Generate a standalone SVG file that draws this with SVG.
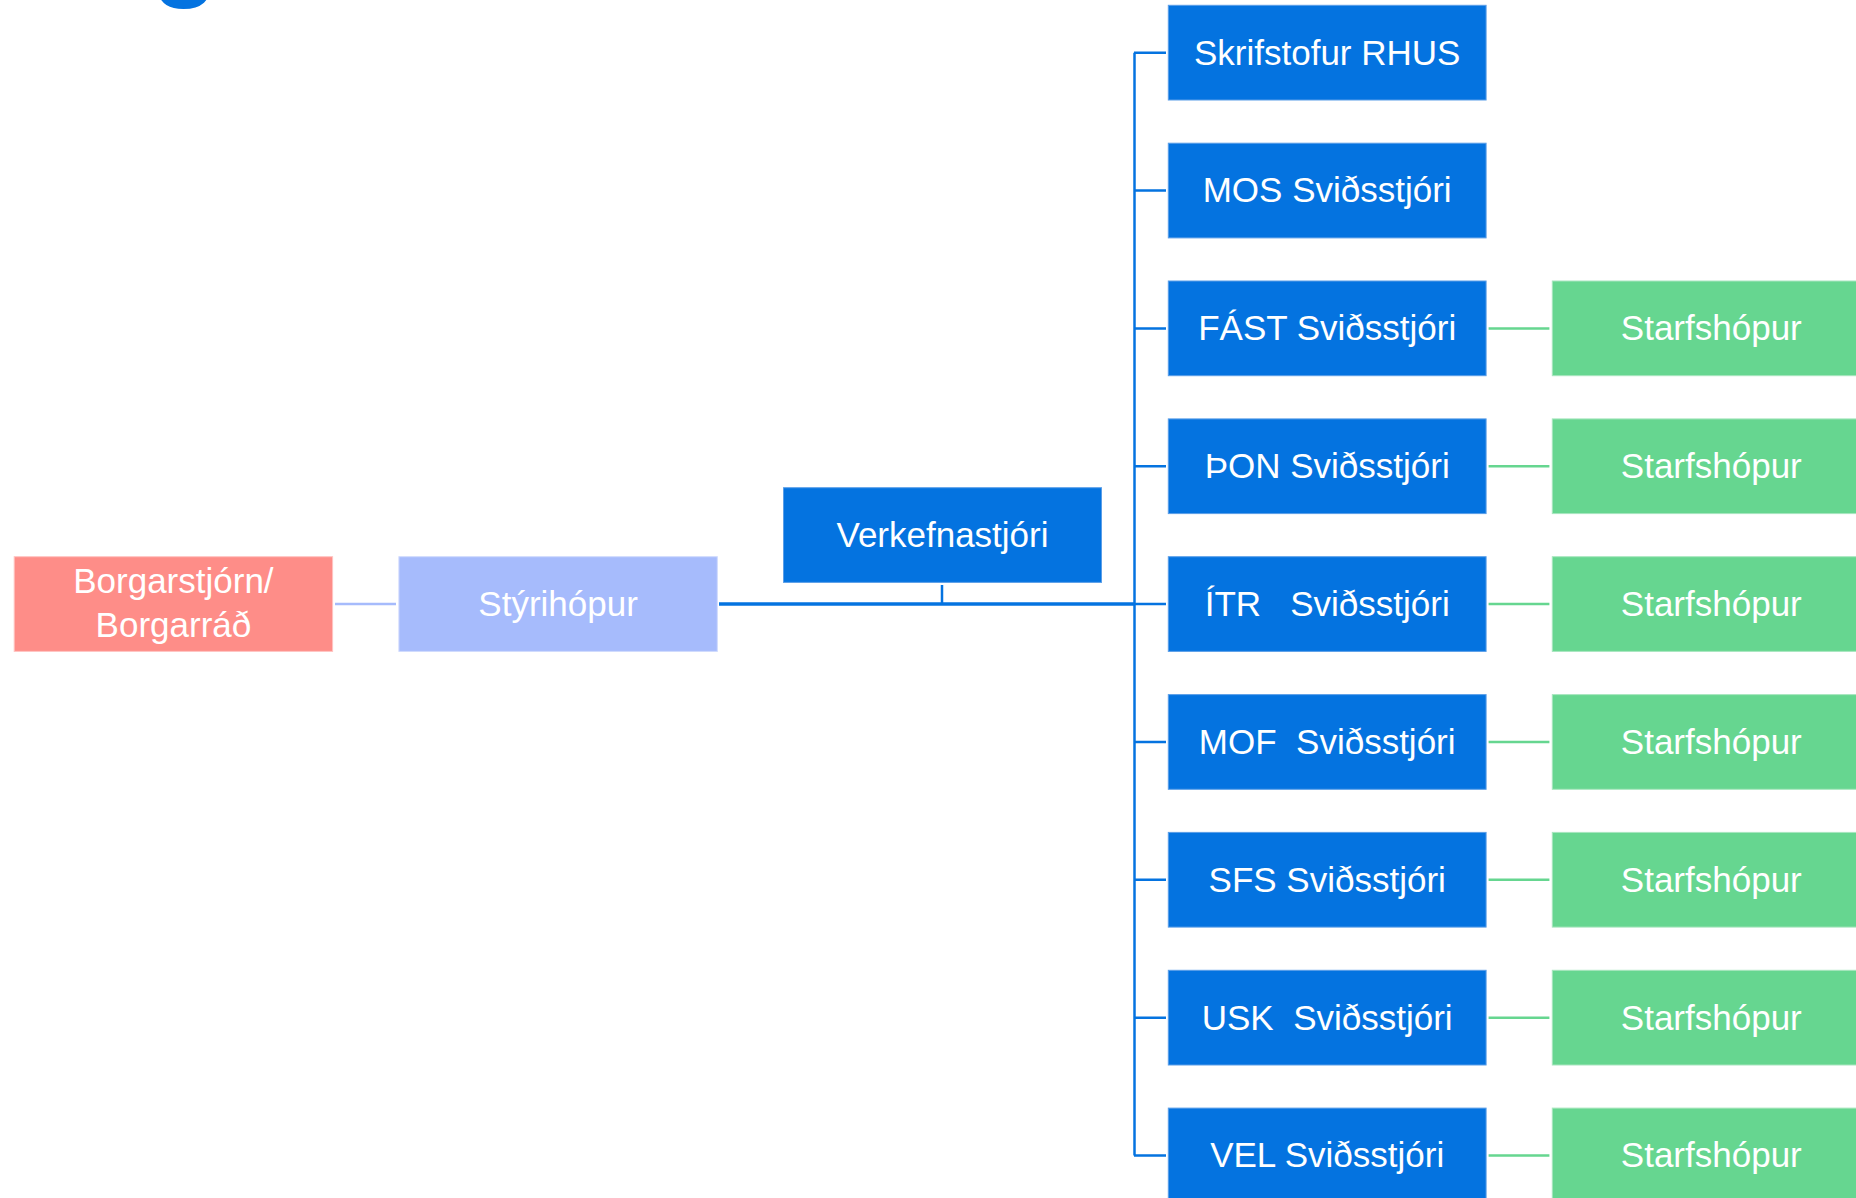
<svg xmlns="http://www.w3.org/2000/svg" width="1856" height="1198" viewBox="0 0 1856 1198">
<style>
text{font-family:"Liberation Sans",Arial,sans-serif;font-size:35px;fill:#ffffff;text-anchor:middle;white-space:pre}
.b{fill:#0473E0;stroke:#5a9ee8;stroke-width:1}
.g{fill:#66D690;stroke:#a8e6bf;stroke-width:1}
.cb{stroke:#0473E0;stroke-width:2.5;fill:none}
.cg{stroke:#66D690;stroke-width:2.5;fill:none}
</style>
<rect width="1856" height="1198" fill="#ffffff"/>
<text x="185" y="-14" style="font-size:110px;font-weight:bold;fill:#0473E0">g</text>
<g id="connectors">
<line x1="335" y1="604" x2="396" y2="604" stroke="#A6BBFC" stroke-width="2.5"/>
<line x1="719" y1="604" x2="1135" y2="604" stroke="#0473E0" stroke-width="3.5"/>
<line x1="942" y1="585" x2="942" y2="604" class="cb"/>
<line x1="1134.5" y1="52.7" x2="1134.5" y2="1155.5" class="cb"/>
<path class="cb" d="M1134 52.7H1166M1134 190.6H1166M1134 328.4H1166M1134 466.3H1166M1134 604.1H1166M1134 742H1166M1134 879.8H1166M1134 1017.7H1166M1134 1155.5H1166"/>
<path class="cg" d="M1488.6 328.4H1549.4M1488.6 466.3H1549.4M1488.6 604.1H1549.4M1488.6 742H1549.4M1488.6 879.8H1549.4M1488.6 1017.7H1549.4M1488.6 1155.5H1549.4"/>
</g>
<g id="borgarstjorn">
<rect x="14.2" y="556.7" width="318.4" height="94.7" fill="#FE8D88" stroke="#ffc4c1" stroke-width="1"/>
<text x="173.4" y="593.3">Borgarstjórn/</text>
<text x="173.4" y="636.7">Borgarráð</text>
</g>
<g id="styrihopur">
<rect x="398.9" y="556.7" width="318.4" height="94.7" fill="#A6BBFC" stroke="#cfdafd" stroke-width="1"/>
<text x="558.1" y="615.5">Stýrihópur</text>
</g>
<g id="verkefnastjori">
<rect class="b" x="783.5" y="487.7" width="318" height="94.7"/>
<text x="942.5" y="547">Verkefnastjóri</text>
</g>
<g id="rhus">
<rect class="b" x="1168.3" y="5.3" width="317.8" height="94.7"/>
<text x="1327.2" y="64.5">Skrifstofur RHUS</text>
</g>
<g id="mos">
<rect class="b" x="1168.3" y="143.2" width="317.8" height="94.7"/>
<text x="1327.2" y="202.4">MOS Sviðsstjóri</text>
</g>
<g id="fast">
<rect class="b" x="1168.3" y="281" width="317.8" height="94.7"/>
<text x="1327.2" y="340.2">FÁST Sviðsstjóri</text>
</g>
<g id="thon">
<rect class="b" x="1168.3" y="418.9" width="317.8" height="94.7"/>
<text x="1327.2" y="478.1">ÞON Sviðsstjóri</text>
</g>
<g id="itr">
<rect class="b" x="1168.3" y="556.7" width="317.8" height="94.7"/>
<text x="1327.2" y="615.9">ÍTR   Sviðsstjóri</text>
</g>
<g id="mof">
<rect class="b" x="1168.3" y="694.6" width="317.8" height="94.7"/>
<text x="1327.2" y="753.8">MOF  Sviðsstjóri</text>
</g>
<g id="sfs">
<rect class="b" x="1168.3" y="832.4" width="317.8" height="94.7"/>
<text x="1327.2" y="891.6">SFS Sviðsstjóri</text>
</g>
<g id="usk">
<rect class="b" x="1168.3" y="970.3" width="317.8" height="94.7"/>
<text x="1327.2" y="1029.5">USK  Sviðsstjóri</text>
</g>
<g id="vel">
<rect class="b" x="1168.3" y="1108.1" width="317.8" height="94.7"/>
<text x="1327.2" y="1167.3">VEL Sviðsstjóri</text>
</g>
<g id="starf-fast">
<rect class="g" x="1552.3" y="281" width="318" height="94.7"/>
<text x="1711.3" y="340.2">Starfshópur</text>
</g>
<g id="starf-thon">
<rect class="g" x="1552.3" y="418.9" width="318" height="94.7"/>
<text x="1711.3" y="478.1">Starfshópur</text>
</g>
<g id="starf-itr">
<rect class="g" x="1552.3" y="556.7" width="318" height="94.7"/>
<text x="1711.3" y="615.9">Starfshópur</text>
</g>
<g id="starf-mof">
<rect class="g" x="1552.3" y="694.6" width="318" height="94.7"/>
<text x="1711.3" y="753.8">Starfshópur</text>
</g>
<g id="starf-sfs">
<rect class="g" x="1552.3" y="832.4" width="318" height="94.7"/>
<text x="1711.3" y="891.6">Starfshópur</text>
</g>
<g id="starf-usk">
<rect class="g" x="1552.3" y="970.3" width="318" height="94.7"/>
<text x="1711.3" y="1029.5">Starfshópur</text>
</g>
<g id="starf-vel">
<rect class="g" x="1552.3" y="1108.1" width="318" height="94.7"/>
<text x="1711.3" y="1167.3">Starfshópur</text>
</g>
</svg>
